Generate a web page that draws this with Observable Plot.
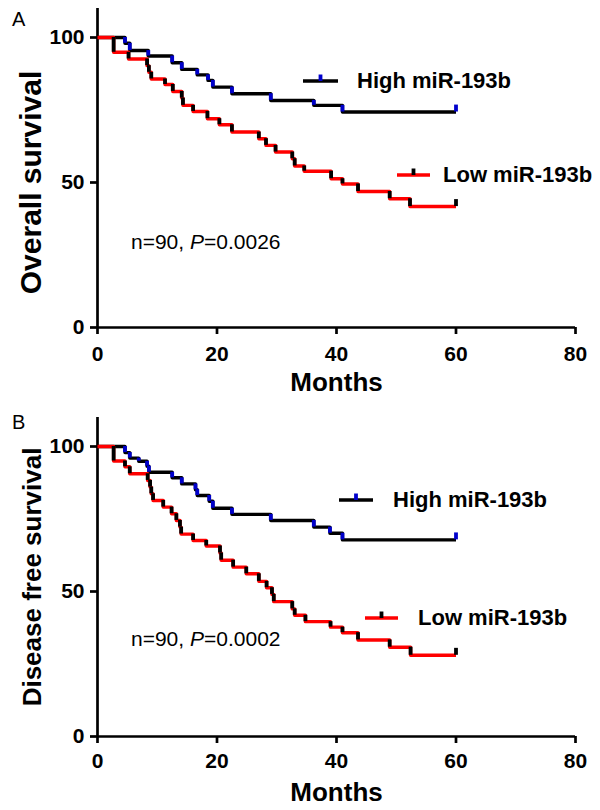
<!DOCTYPE html>
<html><head><meta charset="utf-8">
<script src="https://cdn.jsdelivr.net/npm/d3@7"></script>
<script src="https://cdn.jsdelivr.net/npm/@observablehq/plot@0.6"></script>
<style>
body{margin:0;background:#fff;font-family:"Liberation Sans",Arial,sans-serif;}
#wrap{position:relative;width:600px;height:810px;overflow:hidden;}
.panel{position:absolute;left:0;width:600px;height:405px;}
.ov{position:absolute;white-space:nowrap;color:#000;line-height:1;}
.leg{font-weight:bold;font-size:22px;}
.ann{font-size:21px;}
.letter{font-size:20px;}
svg.sw{position:absolute;overflow:visible;}
</style></head><body><div id="wrap"></div>
<script>
// ---- data ----
const monthTicks = [0, 20, 40, 60, 80];
const survivalTicks = [0, 50, 100];
const groups = ["High miR-193b", "Low miR-193b"];
const lineColors = ["#000000", "#ff0000"];
const markColors = ["#0000cc", "#000000"];

// Panel A: overall survival (months, % surviving after each step)
const osHighT = [0, 4.6, 5.4, 8.5, 12.5, 14.1, 16.7, 18.5, 19.3, 22.5, 29.0, 36.2, 41.0, 60];
const osHighS = [100, 98.0, 95.5, 93.6, 91.3, 89.0, 87.1, 85.2, 82.9, 80.6, 78.3, 76.6, 74.3, 74.3];
const osLowT = [0, 2.7, 5.2, 8.3, 8.6, 9.0, 11.3, 12.6, 14.1, 14.3, 16.0, 18.4, 20.4, 22.5, 27.0, 28.2, 29.8, 32.6, 33.0, 34.6, 39.1, 41.0, 43.6, 48.9, 52.3, 60];
const osLowS = [100, 94.9, 92.6, 90.3, 88.0, 85.7, 83.8, 81.4, 79.1, 76.6, 74.5, 72.0, 69.9, 67.4, 65.1, 62.8, 60.5, 58.2, 55.7, 53.9, 51.3, 49.5, 46.9, 44.4, 41.7, 41.7];

// Panel B: disease free survival
const dfsHighT = [0, 4.6, 5.4, 6.9, 8.3, 8.6, 12.5, 14.1, 16.4, 16.7, 18.7, 19.3, 22.5, 29.0, 36.2, 38.9, 41.0, 60];
const dfsHighS = [100, 97.9, 96.0, 94.9, 93.2, 91.1, 89.2, 87.1, 85.1, 83.1, 81.1, 78.7, 76.6, 74.5, 72.2, 70.1, 67.8, 67.8];
const dfsLowT = [0, 2.7, 4.6, 5.4, 8.4, 8.8, 9.0, 9.3, 11.0, 12.4, 13.2, 13.8, 14.0, 16.0, 18.2, 20.5, 20.7, 22.7, 24.9, 27.0, 28.3, 29.2, 29.5, 32.6, 33.0, 34.8, 39.0, 41.0, 43.6, 48.9, 52.4, 60];
const dfsLowS = [100, 95.0, 93.0, 90.6, 88.3, 86.0, 83.7, 81.4, 79.1, 76.8, 74.5, 72.2, 69.8, 67.6, 65.7, 63.3, 60.8, 58.4, 56.1, 53.5, 51.3, 49.0, 46.5, 44.0, 41.8, 39.6, 37.7, 35.8, 33.3, 30.8, 28.0, 28.0];

const panelLetters = ["A", "B"];
const yLabels = ["Overall survival", "Disease free survival"];
const xLabel = "Months";
const pValues = ["0.0026", "0.0002"];
const nPatients = 90;

// ---- helpers ----
const rowsOf = (t, s) => t.map((d, i) => ({t: d, s: s[i]}));
function dropsOf(t, s) {
  const r = [];
  for (let i = 1; i < t.length; i++) if (s[i] !== s[i - 1]) r.push({t: t[i], s0: s[i - 1], s1: s[i]});
  return r;
}
const endOf = (t, s) => [{t: t[t.length - 1], s: s[s.length - 1]}];

function panel(cfg) {
  const marks = [
    Plot.axisX({ticks: monthTicks, tickSize: 7, tickPadding: cfg.xPad, strokeWidth: 2.7, label: null}),
    Plot.axisY({ticks: survivalTicks, tickSize: 7, tickPadding: 6, strokeWidth: 2.7, label: null}),
    Plot.ruleY([0], {strokeWidth: 2.7}),
    Plot.ruleX([0], {y1: 0, y2: 110, strokeWidth: 2.7})
  ];
  cfg.series.forEach(([t, s], gi) => {
    marks.push(Plot.line(rowsOf(t, s), {x: "t", y: "s", stroke: lineColors[gi], strokeWidth: 3.4, curve: "step-after", strokeLinecap: "butt"}));
  });
  cfg.series.forEach(([t, s], gi) => {
    marks.push(Plot.ruleX(dropsOf(t, s), {x: "t", y1: "s0", y2: "s1", stroke: markColors[gi], strokeWidth: 3.8}));
    marks.push(Plot.ruleX(endOf(t, s), {x: "t", y1: "s", y2: d => d.s + 2.4, stroke: markColors[gi], strokeWidth: 3.8}));
  });
  marks.push(Plot.text([cfg.yLabel], {frameAnchor: "left", rotate: -90, dx: cfg.yLabelDx, dy: cfg.yLabelDy, fontSize: cfg.yLabelSize, fontWeight: "bold", lineAnchor: "middle", textAnchor: "middle"}));
  marks.push(Plot.text([xLabel], {frameAnchor: "bottom", dy: cfg.xLabelDy, fontSize: 26, fontWeight: "bold", lineAnchor: "middle"}));
  return Plot.plot({
    width: 600, height: 405,
    marginLeft: 97, marginRight: 25, marginTop: cfg.mt, marginBottom: cfg.mb,
    x: {domain: [0, 80]},
    y: {domain: [0, 110]},
    style: {fontFamily: "'Liberation Sans', Arial, sans-serif", fontSize: "21px", fontWeight: "bold", color: "#000", background: "#fff", overflow: "visible"},
    marks
  });
}

const wrap = document.getElementById("wrap");
const cfgs = [
  {top: 0, mt: 8, mb: 78, xPad: 12, yLabelDx: -66, yLabelDy: 14.5, yLabelSize: 30, xLabelDy: 55.5,
   series: [[osHighT, osHighS], [osLowT, osLowS]],
   legends: [{x1: 303, x2: 338, y: 81, tx: 357}, {x1: 397, x2: 430, y: 175, tx: 443}],
   ann: {x: 131, y: 241}, letter: {x: 12, y: 9}},
  {top: 405, mt: 12, mb: 74, xPad: 10, yLabelDx: -65, yLabelDy: 0, yLabelSize: 26, xLabelDy: 56,
   series: [[dfsHighT, dfsHighS], [dfsLowT, dfsLowS]],
   legends: [{x1: 339, x2: 373, y: 500, tx: 393}, {x1: 365, x2: 398, y: 618, tx: 418}],
   ann: {x: 131, y: 638}, letter: {x: 12, y: 412}}
];

cfgs.forEach((cfg, pi) => {
  cfg.yLabel = yLabels[pi];
  const div = document.createElement("div");
  div.className = "panel";
  div.style.top = cfg.top + "px";
  div.appendChild(panel(cfg));
  wrap.appendChild(div);

  // panel letter
  const L = document.createElement("div");
  L.className = "ov letter";
  L.textContent = panelLetters[pi];
  L.style.left = cfg.letter.x + "px";
  L.style.top = cfg.letter.y + "px";
  wrap.appendChild(L);

  // legend
  cfg.legends.forEach((lg, gi) => {
    const ns = "http://www.w3.org/2000/svg";
    const sv = document.createElementNS(ns, "svg");
    sv.setAttribute("class", "sw");
    sv.setAttribute("width", lg.x2 - lg.x1);
    sv.setAttribute("height", 12);
    sv.style.left = lg.x1 + "px";
    sv.style.top = (lg.y - 8) + "px";
    const ln = document.createElementNS(ns, "line");
    ln.setAttribute("x1", 0); ln.setAttribute("x2", lg.x2 - lg.x1);
    ln.setAttribute("y1", 8); ln.setAttribute("y2", 8);
    ln.setAttribute("stroke", lineColors[gi]); ln.setAttribute("stroke-width", 3.4);
    sv.appendChild(ln);
    const tk = document.createElementNS(ns, "line");
    const mx = (lg.x2 - lg.x1) / 2;
    tk.setAttribute("x1", mx); tk.setAttribute("x2", mx);
    tk.setAttribute("y1", 1.5); tk.setAttribute("y2", 8);
    tk.setAttribute("stroke", markColors[gi]); tk.setAttribute("stroke-width", 3.8);
    sv.appendChild(tk);
    wrap.appendChild(sv);
    const t = document.createElement("div");
    t.className = "ov leg";
    t.textContent = groups[gi];
    t.style.left = lg.tx + "px";
    t.style.top = (lg.y - 11) + "px";
    wrap.appendChild(t);
  });

  // annotation
  const a = document.createElement("div");
  a.className = "ov ann";
  a.innerHTML = "n=" + nPatients + ", <i>P</i>=" + pValues[pi];
  a.style.left = cfg.ann.x + "px";
  a.style.top = (cfg.ann.y - 10.5) + "px";
  wrap.appendChild(a);
});
</script>
</body></html>
